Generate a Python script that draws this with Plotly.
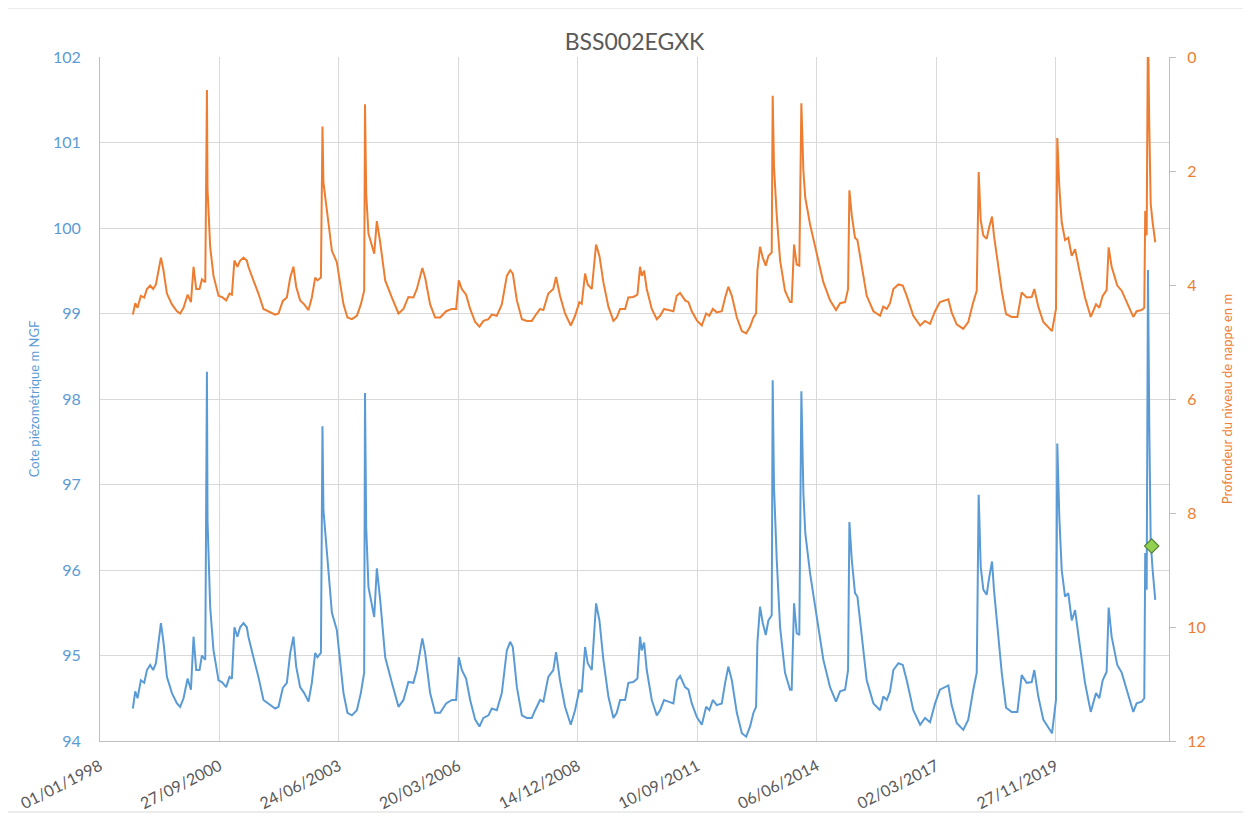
import plotly.graph_objects as go
import pandas as pd

# ---------------- data ----------------
dates = [
    "1998-10-03", "1998-10-23", "1998-11-11", "1998-12-09", "1999-01-06", "1999-01-29",
    "1999-02-25", "1999-03-22", "1999-04-14", "1999-05-06", "1999-05-26", "1999-06-17",
    "1999-07-15", "1999-08-26", "1999-10-07", "1999-11-03", "1999-12-01", "2000-01-04",
    "2000-02-01", "2000-02-23", "2000-03-16", "2000-04-13", "2000-05-03", "2000-05-31",
    "2000-06-14", "2000-06-19", "2000-06-27", "2000-07-11", "2000-08-08", "2000-09-19",
    "2000-10-17", "2000-11-22", "2000-12-20", "2001-01-09", "2001-01-30", "2001-02-24",
    "2001-03-19", "2001-04-16", "2001-05-14", "2001-05-27", "2001-07-08", "2001-08-19",
    "2001-09-30", "2001-11-25", "2002-01-06", "2002-02-03", "2002-03-11", "2002-04-14",
    "2002-05-12", "2002-06-08", "2002-07-01", "2002-08-03", "2002-09-06", "2002-10-12",
    "2002-11-09", "2002-12-07", "2002-12-26", "2003-01-24", "2003-02-06", "2003-02-14",
    "2003-03-15", "2003-04-26", "2003-06-06", "2003-07-04", "2003-08-01", "2003-09-03",
    "2003-10-10", "2003-11-21", "2003-12-24", "2004-01-21", "2004-01-28", "2004-02-07",
    "2004-02-26", "2004-04-14", "2004-05-06", "2004-06-03", "2004-07-15", "2004-09-09",
    "2004-11-03", "2004-12-15", "2005-01-25", "2005-03-08", "2005-04-06", "2005-05-22",
    "2005-06-14", "2005-07-26", "2005-09-06", "2005-10-18", "2005-12-07", "2006-01-24",
    "2006-03-01", "2006-03-23", "2006-04-17", "2006-05-23", "2006-06-26", "2006-08-07",
    "2006-09-12", "2006-10-15", "2006-11-26", "2006-12-24", "2007-02-04", "2007-03-18",
    "2007-04-29", "2007-05-27", "2007-06-18", "2007-07-22", "2007-09-02", "2007-10-13",
    "2007-11-24", "2007-12-22", "2008-02-01", "2008-02-29", "2008-04-10", "2008-05-22",
    "2008-06-14", "2008-07-17", "2008-08-28", "2008-10-15", "2008-11-20", "2008-12-26",
    "2009-01-15", "2009-02-12", "2009-03-06", "2009-04-09", "2009-05-15", "2009-06-12",
    "2009-07-15", "2009-08-26", "2009-10-07", "2009-11-04", "2009-12-02", "2010-01-13",
    "2010-02-09", "2010-03-23", "2010-04-26", "2010-05-18", "2010-06-01", "2010-06-21",
    "2010-07-13", "2010-08-24", "2010-10-05", "2010-11-02", "2010-12-05", "2011-01-10",
    "2011-02-21", "2011-03-21", "2011-04-18", "2011-05-30", "2011-06-27", "2011-07-25",
    "2011-09-05", "2011-10-17", "2011-11-22", "2011-12-19", "2012-01-17", "2012-02-19",
    "2012-04-01", "2012-04-29", "2012-05-26", "2012-06-24", "2012-08-05", "2012-09-16",
    "2012-10-22", "2012-11-24", "2012-12-22", "2013-01-13", "2013-01-24", "2013-02-15",
    "2013-03-10", "2013-04-04", "2013-04-26", "2013-05-24", "2013-06-01", "2013-06-12",
    "2013-07-05", "2013-08-02", "2013-09-12", "2013-10-24", "2013-11-07", "2013-11-27",
    "2013-12-19", "2014-01-10", "2014-01-27", "2014-02-13", "2014-03-01", "2014-04-10",
    "2014-06-05", "2014-07-30", "2014-09-24", "2014-11-13", "2014-12-17", "2015-01-28",
    "2015-02-22", "2015-03-05", "2015-03-25", "2015-04-21", "2015-05-11", "2015-06-17",
    "2015-07-28", "2015-09-22", "2015-11-17", "2015-12-14", "2016-01-12", "2016-02-08",
    "2016-03-07", "2016-04-18", "2016-05-25", "2016-06-27", "2016-08-21", "2016-10-17",
    "2016-11-27", "2017-01-08", "2017-02-19", "2017-04-01", "2017-05-13", "2017-06-10",
    "2017-07-08", "2017-08-19", "2017-10-13", "2017-11-24", "2018-01-05", "2018-02-03",
    "2018-02-19", "2018-03-08", "2018-03-30", "2018-04-27", "2018-05-19", "2018-06-11",
    "2018-06-27", "2018-07-25", "2018-08-31", "2018-10-06", "2018-11-23", "2019-01-09",
    "2019-02-14", "2019-03-28", "2019-05-09", "2019-05-31", "2019-07-03", "2019-08-14",
    "2019-09-25", "2019-10-26", "2019-11-28", "2019-12-09", "2019-12-26", "2020-01-15",
    "2020-02-12", "2020-03-10", "2020-04-08", "2020-05-06", "2020-06-16", "2020-07-28",
    "2020-09-14", "2020-10-28", "2020-11-25", "2020-12-23", "2021-01-25", "2021-02-11",
    "2021-03-08", "2021-04-24", "2021-05-31", "2021-07-12", "2021-09-05", "2021-10-03",
    "2021-11-14", "2021-12-06", "2021-12-14", "2021-12-26", "2022-01-06", "2022-01-17",
    "2022-01-29", "2022-02-14", "2022-03-08",
]

# Cote piezometrique (m NGF)
level = [
    94.38, 94.58, 94.50, 94.71, 94.68, 94.83,
    94.89, 94.83, 94.91, 95.15, 95.38, 95.15,
    94.75, 94.56, 94.44, 94.40, 94.50, 94.73,
    94.60, 95.22, 94.83, 94.83, 95.00, 94.95,
    98.32, 96.58, 96.12, 95.57, 95.06, 94.71,
    94.69, 94.63, 94.75, 94.73, 95.33, 95.22,
    95.33, 95.38, 95.33, 95.22, 94.98, 94.75,
    94.48, 94.42, 94.38, 94.40, 94.62, 94.68,
    95.03, 95.22, 94.87, 94.63, 94.56, 94.46,
    94.68, 95.03, 94.98, 95.03, 97.68, 96.70,
    96.20, 95.50, 95.30, 94.95, 94.56, 94.33,
    94.30, 94.36, 94.56, 94.80, 98.07, 96.50,
    95.80, 95.45, 96.02, 95.65, 94.98, 94.68,
    94.40, 94.48, 94.69, 94.68, 94.83, 95.20,
    95.03, 94.56, 94.33, 94.33, 94.44, 94.48,
    94.48, 94.98, 94.83, 94.73, 94.48, 94.25,
    94.17, 94.27, 94.30, 94.38, 94.36, 94.56,
    95.06, 95.16, 95.10, 94.63, 94.30, 94.27,
    94.27, 94.36, 94.48, 94.46, 94.75, 94.83,
    95.04, 94.71, 94.40, 94.19, 94.36, 94.60,
    94.57, 95.10, 94.91, 94.83, 95.61, 95.41,
    94.95, 94.52, 94.27, 94.33, 94.48, 94.48,
    94.68, 94.69, 94.73, 95.22, 95.06, 95.15,
    94.83, 94.48, 94.30, 94.36, 94.48, 94.46,
    94.44, 94.71, 94.76, 94.63, 94.60, 94.44,
    94.28, 94.19, 94.40, 94.36, 94.48, 94.42,
    94.44, 94.68, 94.87, 94.71, 94.33, 94.09,
    94.05, 94.17, 94.33, 94.40, 95.15, 95.57,
    95.38, 95.24, 95.41, 95.47, 98.22, 96.98,
    96.12, 95.33, 94.80, 94.60, 94.60, 95.61,
    95.26, 95.24, 98.09, 96.90, 96.43, 95.96,
    95.45, 94.95, 94.63, 94.46, 94.58, 94.60,
    94.83, 96.56, 96.12, 95.73, 95.69, 95.26,
    94.71, 94.44, 94.36, 94.52, 94.48, 94.58,
    94.83, 94.91, 94.89, 94.71, 94.36, 94.19,
    94.27, 94.22, 94.44, 94.60, 94.63, 94.65,
    94.42, 94.21, 94.13, 94.25, 94.60, 94.80,
    96.88, 96.04, 95.77, 95.71, 95.92, 96.10,
    95.77, 95.33, 94.80, 94.39, 94.34, 94.34,
    94.77, 94.68, 94.69, 94.83, 94.52, 94.25,
    94.15, 94.09, 94.48, 97.48, 96.62, 96.00,
    95.69, 95.73, 95.41, 95.53, 95.10, 94.68,
    94.34, 94.56, 94.50, 94.71, 94.81, 95.56,
    95.22, 94.89, 94.80, 94.60, 94.34, 94.44,
    94.46, 94.50, 96.20, 95.77, 99.51, 97.67,
    96.32, 96.00, 95.65,
]

# ground elevation of the well (m NGF): depth = ground - level
GROUND_LEVEL = 98.9
depth = [round(GROUND_LEVEL - v, 2) for v in level]

# highlighted latest measurement
marker_dates = ["2022-02-06"]
marker_levels = [96.28]

# x-axis tick labels (every 1000 days)
x_tick_labels = ["01/01/1998", "27/09/2000", "24/06/2003", "20/03/2006", "14/12/2008",
                 "10/09/2011", "06/06/2014", "02/03/2017", "27/11/2019"]
x_tick_vals = pd.to_datetime(x_tick_labels, format="%d/%m/%Y")

title_text = "BSS002EGXK"
left_title = "Cote piézométrique m NGF"
right_title = "Profondeur du niveau de nappe en m"

# ---------------- styling ----------------
BLUE = "#5b9bd5"
ORANGE = "#ed7d31"
GRID = "#d9d9d9"
AXIS = "#bfbfbf"
TEXT = "#595959"
FONT = "Lato"

# the page body has an 8 px margin: size the figure so that it fits the window
W, H = 1243, 811
L, R, T, B = 92, 82, 49, 78

fig = go.Figure()

fig.add_trace(go.Scatter(
    x=pd.to_datetime(dates), y=level, mode="lines",
    line=dict(color=BLUE, width=2), name="Cote", yaxis="y",
))
fig.add_trace(go.Scatter(
    x=pd.to_datetime(dates), y=depth, mode="lines",
    line=dict(color=ORANGE, width=2), name="Profondeur", yaxis="y2",
))
fig.add_trace(go.Scatter(
    x=pd.to_datetime(marker_dates), y=marker_levels, mode="markers",
    marker=dict(symbol="diamond", size=11, color="#92d050",
                line=dict(color="#548235", width=1.2)),
    name="Dernière mesure", yaxis="y",
))

pw = W - L - R
ph = H - T - B

fig.update_layout(
    width=W, height=H,
    margin=dict(l=L, r=R, t=T, b=B, autoexpand=False),
    paper_bgcolor="white", plot_bgcolor="white",
    showlegend=False,
    font=dict(family=FONT, color=TEXT),
    title=dict(text=title_text, x=0.5, xref="paper", xanchor="center",
               y=1 - 34 / H, yref="container", yanchor="middle",
               font=dict(family=FONT, size=23, color=TEXT)),
    xaxis=dict(
        type="date", automargin=False,
        range=["1998-01-01", "2022-07-01"],
        tickmode="array", tickvals=x_tick_vals, ticktext=x_tick_labels,
        tickangle=-27,
        tickfont=dict(family=FONT, size=16, color=TEXT),
        showgrid=True, gridcolor=GRID, gridwidth=1,
        showline=True, linecolor=AXIS, linewidth=1,
        zeroline=False, ticks="", ticklabelstandoff=9,
    ),
    yaxis=dict(
        automargin=False,
        range=[94, 102], tickmode="linear", tick0=94, dtick=1,
        tickfont=dict(family=FONT, size=16, color=BLUE),
        showgrid=True, gridcolor=GRID, gridwidth=1,
        showline=True, linecolor=AXIS, linewidth=1,
        zeroline=False, ticks="", ticklabelstandoff=15,
        title=dict(text=left_title, font=dict(family=FONT, size=13, color=BLUE),
                   standoff=10),
    ),
    yaxis2=dict(
        automargin=False,
        overlaying="y", side="right",
        range=[12, 0], tickmode="linear", tick0=0, dtick=2,
        tickfont=dict(family=FONT, size=16, color=ORANGE),
        showgrid=False, zeroline=False,
        showline=True, linecolor=AXIS, linewidth=1,
        ticks="outside", ticklen=6, tickcolor=AXIS, ticklabelstandoff=8,
        title=dict(text=right_title, font=dict(family=FONT, size=13, color=ORANGE),
                   standoff=18),
    ),
    shapes=[dict(type="rect", xref="paper", yref="paper",
                 x0=(-1 - L) / pw, x1=(1237 - L) / pw,
                 y0=-(804 - (H - B)) / ph, y1=((H - B) - 0) / ph,
                 line=dict(color="#d9d9d9", width=1), fillcolor="rgba(0,0,0,0)",
                 layer="below")],
)

fig.write_html("out.html")
